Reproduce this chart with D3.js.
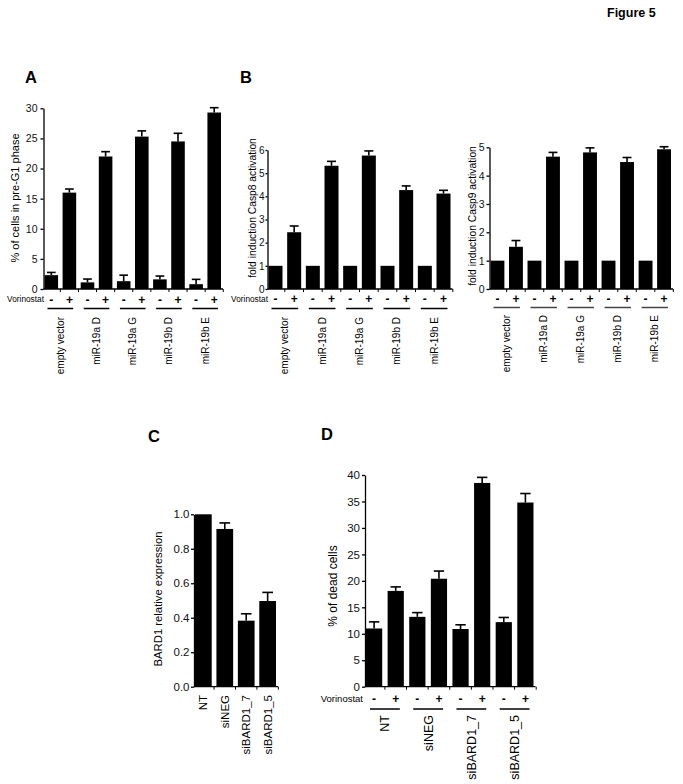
<!DOCTYPE html>
<html>
<head>
<meta charset="utf-8">
<script src="https://cdn.jsdelivr.net/npm/d3@7"></script>
<style>
  body { margin: 0; background: #fff; }
  svg { display: block; font-family: "Liberation Sans", Arial, sans-serif; }
</style>
</head>
<body>
<div id="chart"></div>
<script>
// ---- data ----
const constructs = ["empty vector", "miR-19a D", "miR-19a G", "miR-19b D", "miR-19b E"]
const treatment = ["-", "+"]

// A: % of cells in pre-G1 phase
const preG1Minus = [2.3, 1.1, 1.3, 1.6, 0.8]
const preG1MinusErr = [0.45, 0.55, 1.0, 0.55, 0.8]
const preG1Plus = [16.0, 22.0, 25.3, 24.5, 29.3]
const preG1PlusErr = [0.6, 0.8, 0.95, 1.35, 0.8]

// B: fold induction caspase activation
const casp8Minus = [1, 1, 1, 1, 1]
const casp8Plus = [2.45, 5.32, 5.76, 4.27, 4.12]
const casp8PlusErr = [0.27, 0.19, 0.2, 0.18, 0.14]
const casp9Minus = [1, 1, 1, 1, 1]
const casp9Plus = [1.49, 4.67, 4.82, 4.48, 4.93]
const casp9PlusErr = [0.22, 0.15, 0.16, 0.16, 0.09]

// C: BARD1 relative expression
const sirna = ["NT", "siNEG", "siBARD1_7", "siBARD1_5"]
const bard1Expr = [1.0, 0.915, 0.383, 0.497]
const bard1Err = [0, 0.035, 0.04, 0.05]

// D: % of dead cells
const deadMinus = [11.0, 13.2, 10.9, 12.2]
const deadMinusErr = [1.25, 0.8, 0.8, 0.88]
const deadPlus = [18.1, 20.4, 38.5, 34.8]
const deadPlusErr = [0.76, 1.45, 1.05, 1.7]

// tick values
const ticksA = [0, 5, 10, 15, 20, 25, 30]
const ticksB8 = [0, 1, 2, 3, 4, 5, 6]
const ticksB9 = [0, 1, 2, 3, 4, 5]
const ticksC = [0, 0.2, 0.4, 0.6, 0.8, 1.0]
const ticksD = [0, 5, 10, 15, 20, 25, 30, 35, 40]

const width = 683
const height = 784
const svg = d3
  .select("#chart")
  .append("svg")
  .attr("width", width)
  .attr("height", height)

//turn the -/+ arrays into a flat list of bars
function pairBars(groups, minus, minusErr, plus, plusErr) {
  let out = []
  groups.forEach(function (g, i) {
    out.push({ key: g + "|-", group: g, sign: treatment[0], value: minus[i], err: minusErr ? minusErr[i] : 0 })
    out.push({ key: g + "|+", group: g, sign: treatment[1], value: plus[i], err: plusErr ? plusErr[i] : 0 })
  })
  return out
}

function drawPanel(cfg) {
  const g = svg.append("g")

  const x = d3
    .scaleBand()
    .domain(cfg.bars.map((d) => d.key))
    .range([cfg.x0, cfg.x1])
    .paddingInner(cfg.pad)
    .paddingOuter(0)

  const y = d3.scaleLinear().domain([0, cfg.max]).range([cfg.y0, cfg.yTop])

  //bars
  g.selectAll(".bar")
    .data(cfg.bars)
    .enter()
    .append("rect")
    .attr("x", (d) => x(d.key))
    .attr("y", (d) => y(d.value))
    .attr("width", x.bandwidth())
    .attr("height", (d) => cfg.y0 - y(d.value))
    .style("fill", "#000")

  //error bars (upper half only, the bar hides the rest)
  const eb = g.selectAll(".err")
    .data(cfg.bars.filter((d) => d.err > 0))
    .enter()
    .append("g")
    .style("stroke", "#000")
    .style("stroke-width", 1.6)
  eb.append("line")
    .attr("x1", (d) => x(d.key) + x.bandwidth() / 2)
    .attr("x2", (d) => x(d.key) + x.bandwidth() / 2)
    .attr("y1", (d) => y(d.value))
    .attr("y2", (d) => y(d.value + d.err))
  eb.append("line")
    .attr("x1", (d) => x(d.key) + x.bandwidth() * 0.18)
    .attr("x2", (d) => x(d.key) + x.bandwidth() * 0.82)
    .attr("y1", (d) => y(d.value + d.err))
    .attr("y2", (d) => y(d.value + d.err))

  //y axis
  const yAxis = d3
    .axisLeft(y)
    .tickValues(cfg.ticks)
    .tickFormat(cfg.fmt)
    .tickSize(cfg.tickSize || 3)
    .tickSizeOuter(0)
    .tickPadding(cfg.tickPad)
  const ya = g
    .append("g")
    .attr("transform", "translate(" + (cfg.x0 - 1) + ",0)")
    .call(yAxis)
  ya.attr("font-family", null).attr("font-size", cfg.tickFont)
  ya.selectAll("path, line").style("stroke", "#000").style("stroke-width", 1.3)
  ya.selectAll("text").style("fill", "#111")

  //x axis line with little ticks between bars
  g.append("line")
    .attr("x1", cfg.x0 - 1)
    .attr("x2", cfg.x1 + 2)
    .attr("y1", cfg.y0)
    .attr("y2", cfg.y0)
    .style("stroke", "#000")
    .style("stroke-width", 1.3)
  const step = x.step()
  g.selectAll(".xt")
    .data(cfg.bars)
    .enter()
    .append("line")
    .attr("x1", (d) => x(d.key) + x.bandwidth() + (step - x.bandwidth()) / 2)
    .attr("x2", (d) => x(d.key) + x.bandwidth() + (step - x.bandwidth()) / 2)
    .attr("y1", cfg.y0)
    .attr("y2", cfg.y0 + 3)
    .style("stroke", "#000")
    .style("stroke-width", 1)

  //y label
  g.append("text")
    .attr("transform", "translate(" + cfg.ylabelX + "," + cfg.ylabelY + ") rotate(-90)")
    .attr("text-anchor", "middle")
    .attr("dy", "0.35em")
    .attr("font-size", cfg.ylabelFont)
    .text(cfg.ylabel)

  return { g: g, x: x, y: y }
}

//-/+ row, group lines and rotated group names
function drawTreatment(p, cfg) {
  const x = p.x
  const bw = x.bandwidth()
  if (cfg.vorX) {
    p.g.append("text")
      .attr("x", cfg.vorX)
      .attr("y", cfg.signY)
      .attr("dy", "0.35em")
      .attr("text-anchor", "end")
      .attr("font-size", cfg.vorFont)
      .text("Vorinostat")
  }
  p.g.selectAll(".sign")
    .data(cfg.bars)
    .enter()
    .append("text")
    .attr("x", (d) => x(d.key) + bw / 2)
    .attr("y", cfg.signY)
    .attr("dy", "0.35em")
    .attr("text-anchor", "middle")
    .attr("font-size", 12)
    .attr("font-weight", "bold")
    .text((d) => d.sign)

  p.g.selectAll(".grp")
    .data(cfg.groups)
    .enter()
    .append("line")
    .attr("x1", (d) => x(d + "|-") + cfg.inset)
    .attr("x2", (d) => x(d + "|+") + bw - cfg.inset)
    .attr("y1", cfg.lineY)
    .attr("y2", cfg.lineY)
    .style("stroke", cfg.lineColor || "#000")
    .style("stroke-width", 1.5)

  p.g.selectAll(".glabel")
    .data(cfg.groups)
    .enter()
    .append("text")
    .attr("transform", (d) => {
      const cx = (x(d + "|-") + x(d + "|+") + bw) / 2
      return "translate(" + cx + "," + cfg.labelY + ") rotate(-90)"
    })
    .attr("text-anchor", "end")
    .attr("dy", "0.35em")
    .attr("font-size", cfg.labelFont)
    .text((d) => d)
}

// ---- A ----
const barsA = pairBars(constructs, preG1Minus, preG1MinusErr, preG1Plus, preG1PlusErr)
const pA = drawPanel({
  bars: barsA, x0: 44.5, x1: 221, pad: 0.25, y0: 289, yTop: 108.3, max: 30,
  ticks: ticksA, fmt: d3.format("d"), tickFont: 10.5, tickPad: 3,
  ylabel: "% of cells in pre-G1 phase", ylabelX: 15, ylabelY: 198, ylabelFont: 11
})
drawTreatment(pA, {
  bars: barsA, groups: constructs, vorX: 44, vorFont: 8.3, signY: 299.5,
  lineY: 308.5, inset: 3, labelY: 317, labelFont: 10
})

// ---- B, Casp8 ----
const barsB8 = pairBars(constructs, casp8Minus, null, casp8Plus, casp8PlusErr)
const pB8 = drawPanel({
  bars: barsB8, x0: 268.5, x1: 450.5, pad: 0.25, y0: 289, yTop: 150, max: 6,
  ticks: ticksB8, fmt: d3.format("d"), tickFont: 10, tickPad: 1, tickSize: 2,
  ylabel: "fold induction Casp8 activation", ylabelX: 252, ylabelY: 208, ylabelFont: 10.3
})
drawTreatment(pB8, {
  bars: barsB8, groups: constructs, vorX: 268, vorFont: 8.3, signY: 299,
  lineY: 308.5, inset: 3, labelY: 317, labelFont: 10
})

// ---- B, Casp9 ----
const barsB9 = pairBars(constructs, casp9Minus, null, casp9Plus, casp9PlusErr)
const pB9 = drawPanel({
  bars: barsB9, x0: 490.5, x1: 671, pad: 0.25, y0: 289, yTop: 147.3, max: 5,
  ticks: ticksB9, fmt: d3.format("d"), tickFont: 10.5, tickPad: 2,
  ylabel: "fold induction Casp9 activation", ylabelX: 472, ylabelY: 216, ylabelFont: 10.3
})
drawTreatment(pB9, {
  bars: barsB9, groups: constructs, vorX: null, signY: 299,
  lineY: 307.5, inset: 3, labelY: 315, labelFont: 10, lineColor: "#444"
})

// ---- C ----
const barsC = sirna.map((s, i) => ({ key: s, group: s, value: bard1Expr[i], err: bard1Err[i] }))
const pC = drawPanel({
  bars: barsC, x0: 195, x1: 276, pad: 0.22, y0: 686.7, yTop: 514.3, max: 1,
  ticks: ticksC, fmt: d3.format(".1f"), tickFont: 11.5, tickPad: 1.5,
  ylabel: "BARD1 relative expression", ylabelX: 158, ylabelY: 599, ylabelFont: 11.3
})
pC.g.selectAll(".clabel")
  .data(barsC)
  .enter()
  .append("text")
  .attr("transform", (d) => "translate(" + (pC.x(d.key) + pC.x.bandwidth() / 2) + ",695) rotate(-90)")
  .attr("text-anchor", "end")
  .attr("dy", "0.35em")
  .attr("font-size", 11.5)
  .text((d) => d.key)

// ---- D ----
const barsD = pairBars(sirna, deadMinus, deadMinusErr, deadPlus, deadPlusErr)
const pD = drawPanel({
  bars: barsD, x0: 366, x1: 533.5, pad: 0.25, y0: 686.7, yTop: 475, max: 40,
  ticks: ticksD, fmt: d3.format("d"), tickFont: 11.5, tickPad: 2,
  ylabel: "% of dead cells", ylabelX: 333, ylabelY: 586, ylabelFont: 12
})
drawTreatment(pD, {
  bars: barsD, groups: sirna, vorX: 363, vorFont: 9.5, signY: 698.5,
  lineY: 709, inset: 4, labelY: 715, labelFont: 12.5
})

//panel letters and figure title
const letters = [
  { t: "A", x: 25, y: 83 },
  { t: "B", x: 240, y: 83 },
  { t: "C", x: 148, y: 442 },
  { t: "D", x: 321, y: 440 }
]
svg.selectAll(".letter")
  .data(letters)
  .enter()
  .append("text")
  .attr("x", (d) => d.x)
  .attr("y", (d) => d.y)
  .attr("font-size", 16.5)
  .attr("font-weight", "bold")
  .text((d) => d.t)

svg.append("text")
  .attr("x", 607)
  .attr("y", 17)
  .attr("font-size", 12.5)
  .attr("font-weight", "bold")
  .text("Figure 5")
</script>
</body>
</html>
